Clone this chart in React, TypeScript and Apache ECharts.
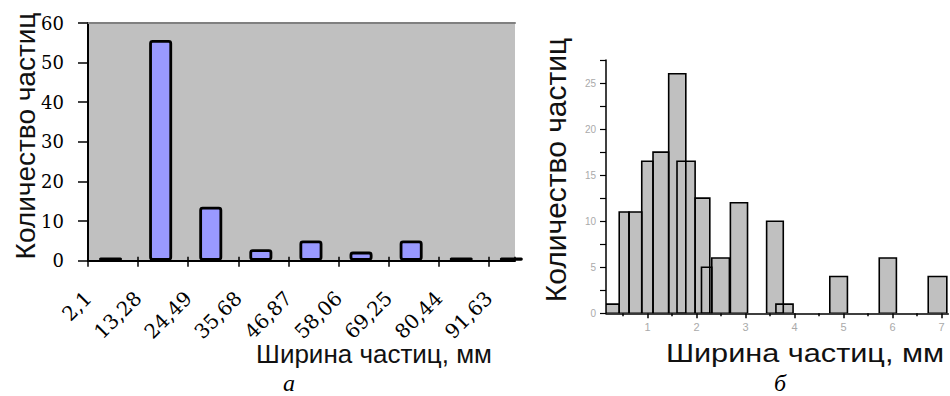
import React, { useEffect, useRef } from "react";
import * as echarts from "echarts";

// ---- Chart а (left): histogram of particle width, bins start at bin edges ----
const edgeLabelsA = ["2,1", "13,28", "24,49", "35,68", "46,87", "58,06", "69,25", "80,44", "91,63"];
const countsA = [0.8, 55.7, 13.6, 2.9, 5.1, 2.3, 5.1, 0.8, 0.8];
const yTicksA = [0, 10, 20, 30, 40, 50, 60];

// ---- Chart б (right): histogram bars [from, to, count] ----
const binStartB = [0.15, 0.42, 0.62, 0.88, 1.11, 1.43, 1.6, 1.97, 2.1, 2.31, 2.69, 3.43, 3.62, 4.72, 5.73, 6.73];
const binEndB = [0.42, 0.62, 0.88, 1.11, 1.43, 1.78, 1.97, 2.27, 2.31, 2.67, 3.04, 3.77, 3.97, 5.08, 6.08, 7.11];
const countsB = [1, 11, 11, 16.5, 17.5, 26, 16.5, 12.5, 5, 6, 12, 10, 1, 4, 6, 4];
const xTickLabelsB = [1, 2, 3, 4, 5, 6, 7];
const xMinorTicksB = [0.5, 1.5, 2.5, 3.5, 4.5, 5.5, 6.5];

const yTitle = "Количество частиц";
const xTitle = "Ширина частиц, мм";

export default function App() {
  const ref = useRef<HTMLDivElement>(null);

  useEffect(() => {
    if (!ref.current) return;
    const chart = echarts.init(ref.current, undefined, { renderer: "svg" });

    const barDataA = countsA.map((v, i) => [i + 0.45, v]);
    const histB = countsB.map((v, i) => [binStartB[i], binEndB[i], v]);
    const maxA = 427 / 50.1;

    const renderRect = (fill: string, stroke: string, lw: number) => (params: any, api: any) => {
      const p0 = api.coord([api.value(0), 0]);
      const p1 = api.coord([api.value(1), api.value(2)]);
      return {
        type: "rect",
        shape: { x: p0[0], y: p1[1], width: p1[0] - p0[0], height: p0[1] - p1[1] },
        style: { fill, stroke, lineWidth: lw },
      };
    };

    const serif = "DejaVu Serif";
    const sans = "Liberation Sans";

    chart.setOption({
      animation: false,
      grid: [
        { left: 88, top: 23, width: 427, height: 237.7, show: true, backgroundColor: "#c0c0c0", borderWidth: 0 },
        { left: 606, top: 60, width: 342.3, height: 253.3, show: false },
      ],
      xAxis: [
        {
          type: "value", gridIndex: 0, min: 0, max: maxA, interval: 1,
          axisLine: { show: true, lineStyle: { color: "#000", width: 2 } },
          axisTick: { show: true, length: 6, lineStyle: { color: "#000", width: 1.5 } },
          splitLine: { show: false },
          axisLabel: {
            show: true, rotate: 45, margin: 34, showMaxLabel: false,
            fontFamily: serif, fontSize: 20, color: "#000",
            formatter: (v: number) => edgeLabelsA[Math.round(v)] ?? "",
          },
        },
        {
          type: "value", gridIndex: 0, min: 0, max: maxA, interval: 1, position: "bottom",
          axisLine: { show: false },
          axisTick: { show: true, inside: true, length: 4, lineStyle: { color: "#000", width: 1.5 } },
          axisLabel: { show: false }, splitLine: { show: false },
        },
        {
          type: "value", gridIndex: 0, min: 0, max: maxA, position: "top",
          axisLine: { show: true, lineStyle: { color: "#808080", width: 2 } },
          axisTick: { show: false }, axisLabel: { show: false }, splitLine: { show: false },
        },
        {
          type: "value", gridIndex: 1, min: 0.15, max: 7.14,
          axisLine: { show: true, lineStyle: { color: "#000", width: 1.5 } },
          axisTick: { show: true, length: 5, customValues: xTickLabelsB, lineStyle: { color: "#000", width: 1.5 } },
          axisLabel: { show: true, customValues: xTickLabelsB, margin: 8, fontFamily: sans, fontSize: 11, color: "#aaa" },
          splitLine: { show: false },
        },
        {
          type: "value", gridIndex: 1, min: 0.15, max: 7.14, position: "bottom",
          axisLine: { show: false },
          axisTick: { show: true, length: 3, customValues: xMinorTicksB, lineStyle: { color: "#000", width: 1.5 } },
          axisLabel: { show: false }, splitLine: { show: false },
        },
      ],
      yAxis: [
        {
          type: "value", gridIndex: 0, min: yTicksA[0], max: yTicksA[yTicksA.length - 1], interval: 10,
          axisLine: { show: true, lineStyle: { color: "#000", width: 2 } },
          axisTick: { show: true, length: 10, lineStyle: { color: "#000", width: 1.5 } },
          axisLabel: { show: true, margin: 24, fontFamily: serif, fontSize: 18, color: "#000" },
          splitLine: { show: false },
        },
        {
          type: "value", gridIndex: 1, min: 0, max: 27.5, interval: 2.5,
          axisLine: { show: true, lineStyle: { color: "#000", width: 1.5 } },
          axisTick: { show: true, length: 6, lineStyle: { color: "#000", width: 1.2 } },
          axisLabel: {
            show: true, margin: 10, fontFamily: sans, fontSize: 10, color: "#aaa",
            formatter: (v: number) => (Math.abs(v % 5) < 1e-9 ? String(v) : ""),
          },
          splitLine: { show: false },
        },
      ],
      series: [
        {
          type: "bar", xAxisIndex: 0, yAxisIndex: 0, data: barDataA, barWidth: 23, clip: true,
          itemStyle: { color: "#9999ff", borderColor: "#000", borderWidth: 2.8, borderRadius: 2 },
        },
        {
          type: "custom", xAxisIndex: 3, yAxisIndex: 1, data: histB, clip: true,
          encode: { x: [0, 1], y: 2 },
          renderItem: renderRect("#c0c0c0", "none", 0),
        },
        {
          type: "custom", xAxisIndex: 3, yAxisIndex: 1, data: histB, clip: true,
          encode: { x: [0, 1], y: 2 },
          renderItem: renderRect("none", "#000", 1.6),
        },
      ],
      graphic: [
        {
          type: "text", x: 25, y: 136, rotation: Math.PI / 2,
          style: { text: yTitle, x: 0, y: 0, font: `28px "${sans}"`, fill: "#111", align: "center", verticalAlign: "middle", textAlign: "center", textVerticalAlign: "middle" },
        },
        {
          type: "text", x: 374, y: 367,
          style: { text: xTitle, x: 0, y: 0, font: `26px "${sans}"`, fill: "#111", align: "center", verticalAlign: "bottom", textAlign: "center", textVerticalAlign: "bottom" },
        },
        {
          type: "text", x: 555, y: 170, rotation: Math.PI / 2,
          style: { text: yTitle, x: 0, y: 0, font: `30px "${sans}"`, fill: "#111", align: "center", verticalAlign: "middle", textAlign: "center", textVerticalAlign: "middle" },
        },
        {
          type: "text", x: 805, y: 366, scaleX: 1.18,
          style: { text: xTitle, x: 0, y: 0, font: `26px "${sans}"`, fill: "#111", align: "center", verticalAlign: "bottom", textAlign: "center", textVerticalAlign: "bottom" },
        },
        {
          type: "text", x: 289, y: 395,
          style: { text: "а", x: 0, y: 0, font: `italic 24px "Liberation Serif"`, fill: "#000", align: "center", verticalAlign: "bottom", textAlign: "center", textVerticalAlign: "bottom" },
        },
        {
          type: "text", x: 780, y: 395,
          style: { text: "б", x: 0, y: 0, font: `italic 24px "Liberation Serif"`, fill: "#000", align: "center", verticalAlign: "bottom", textAlign: "center", textVerticalAlign: "bottom" },
        },
      ],
    });

    return () => chart.dispose();
  }, []);

  return (
    <div
      ref={ref}
      style={{ position: "fixed", left: 0, top: 0, width: 950, height: 396, background: "#fff" }}
    />
  );
}
